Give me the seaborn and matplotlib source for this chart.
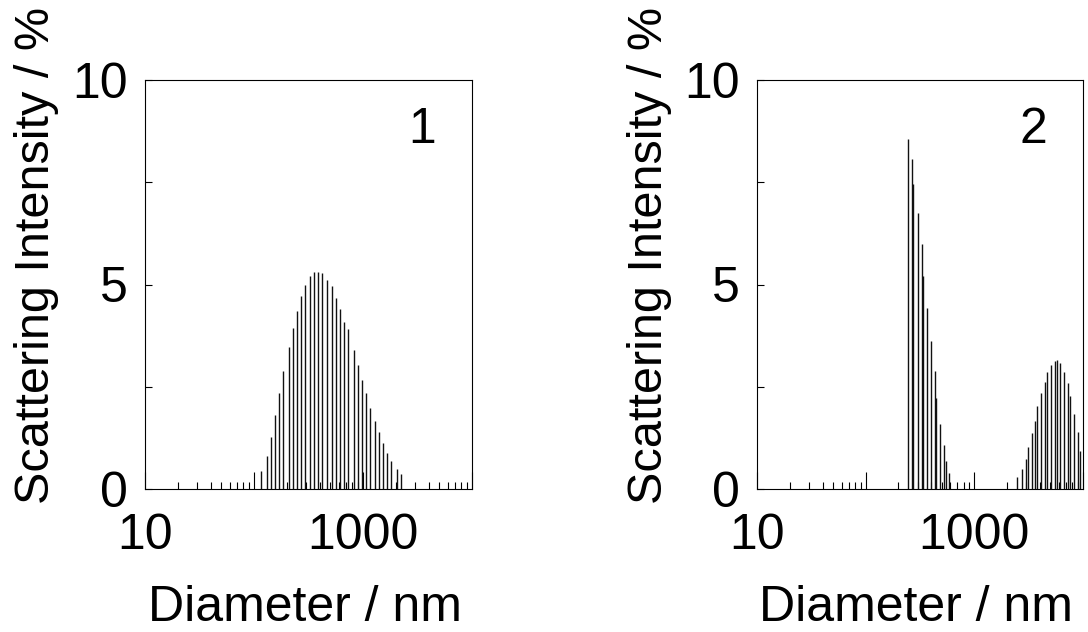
import matplotlib
matplotlib.use("Agg")
import matplotlib.pyplot as plt
import matplotlib.ticker as mticker
import numpy as np
import pandas as pd
import seaborn as sns

# ---- data (diameter in nm, intensity in %) ----
p1_diameter = [116.7, 131.6, 143.2, 156.8, 170.7, 185.8, 208.1, 226.5, 246.5, 268.2,
               291.9, 326.4, 357.4, 386.5, 423.2, 464.5, 519.6, 565.5, 619.1, 673.7,
               733.1, 826.9, 900.0, 973.0, 1059, 1152, 1297, 1411, 1536, 1671,
               1818, 2038, 2218]
p1_intensity = [0.45, 0.80, 1.27, 1.80, 2.35, 2.89, 3.46, 3.93, 4.36, 4.72,
                5.00, 5.20, 5.31, 5.31, 5.27, 5.12, 4.96, 4.68, 4.39, 4.09,
                3.91, 3.41, 3.02, 2.66, 2.34, 1.99, 1.66, 1.39, 1.12, 0.89,
                0.68, 0.48, 0.37]

p2_diameter = [246.5, 266.6, 274.1, 300.9, 327.5, 336.7, 366.6, 401.5, 437.1, 446.5,
               483.0, 529.1, 552.1, 584.6,
               2490, 2735, 2977, 3106, 3381, 3665, 3807, 4111, 4484, 4649,
               5060, 5508, 5846, 6165, 6710, 7305, 7622, 8297, 9088, 9425]
p2_intensity = [8.56, 8.08, 7.45, 6.74, 5.99, 5.21, 4.42, 3.62, 2.89, 2.23,
                1.59, 1.08, 0.69, 0.38,
                0.30, 0.50, 0.73, 1.03, 1.36, 1.67, 2.03, 2.35, 2.62, 2.85,
                3.02, 3.14, 3.15, 3.07, 2.87, 2.58, 2.28, 1.84, 1.40, 0.94]

panel_labels = ["1", "2"]
x_major_ticks = [10, 100, 1000, 10000]
x_major_labels = ["10", "", "1000", ""]
y_ticks = [0, 2.5, 5, 7.5, 10]
y_tick_labels = ["0", "", "5", "", "10"]
x_label = "Diameter / nm"
y_label = "Scattering Intensity / %"

sns.set_theme(style="white")
plt.rcParams["font.family"] = ["Liberation Sans", "DejaVu Sans"]
plt.rcParams["text.color"] = "black"
plt.rcParams["axes.labelcolor"] = "black"
plt.rcParams["xtick.color"] = "black"
plt.rcParams["ytick.color"] = "black"


def stems(diam, inten):
    rows = []
    for i, (d, h) in enumerate(zip(diam, inten)):
        rows.append((i, d, 0.0))
        rows.append((i, d, h))
    return pd.DataFrame(rows, columns=["bar", "diameter", "intensity"])


W, H = 1088, 632
fig = plt.figure(figsize=(W / 100, H / 100), dpi=100)
rects = [(145 / W, 143 / H, 327 / W, 409 / H),
         (757.3 / W, 143 / H, 325.4 / W, 409 / H)]
datasets = [(p1_diameter, p1_intensity), (p2_diameter, p2_intensity)]

for rect, (diam, inten), lab in zip(rects, datasets, panel_labels):
    ax = fig.add_axes(rect)
    ax.set_xscale("log")
    sns.lineplot(data=stems(diam, inten), x="diameter", y="intensity",
                 units="bar", estimator=None, color="#111111", linewidth=1.0,
                 solid_capstyle="butt", legend=False, ax=ax)
    ax.set_xlim(10, 10000)
    ax.set_ylim(0, 10)

    ax.xaxis.set_major_locator(mticker.FixedLocator(x_major_ticks))
    ax.xaxis.set_major_formatter(mticker.FixedFormatter(x_major_labels))
    ax.xaxis.set_minor_locator(mticker.LogLocator(base=10, subs=np.arange(2, 10),
                                                  numticks=50))
    ax.xaxis.set_minor_formatter(mticker.NullFormatter())
    ax.set_yticks(y_ticks)
    ax.set_yticklabels(y_tick_labels)

    ax.tick_params(axis="x", which="major", direction="in", length=12.2, width=0.8,
                   pad=17, labelsize=36, bottom=True, top=False)
    ax.tick_params(axis="x", which="minor", direction="in", length=5, width=0.8,
                   bottom=True, top=False)
    ax.tick_params(axis="y", which="major", direction="in", length=5, width=0.8,
                   pad=12.5, labelsize=36, left=True, right=False)

    for sp in ax.spines.values():
        sp.set_color("black")
        sp.set_linewidth(0.8)

    ax.set_xlabel(x_label, fontsize=36)
    ax.xaxis.set_label_coords(0.488, -0.2347)
    ax.set_ylabel(y_label, fontsize=35)
    ax.yaxis.set_label_coords(-0.262, 0.572)

    ax.text(0.848, 0.846, lab, transform=ax.transAxes, ha="center",
            va="baseline", fontsize=36)

fig.savefig("out.png", dpi=100)
